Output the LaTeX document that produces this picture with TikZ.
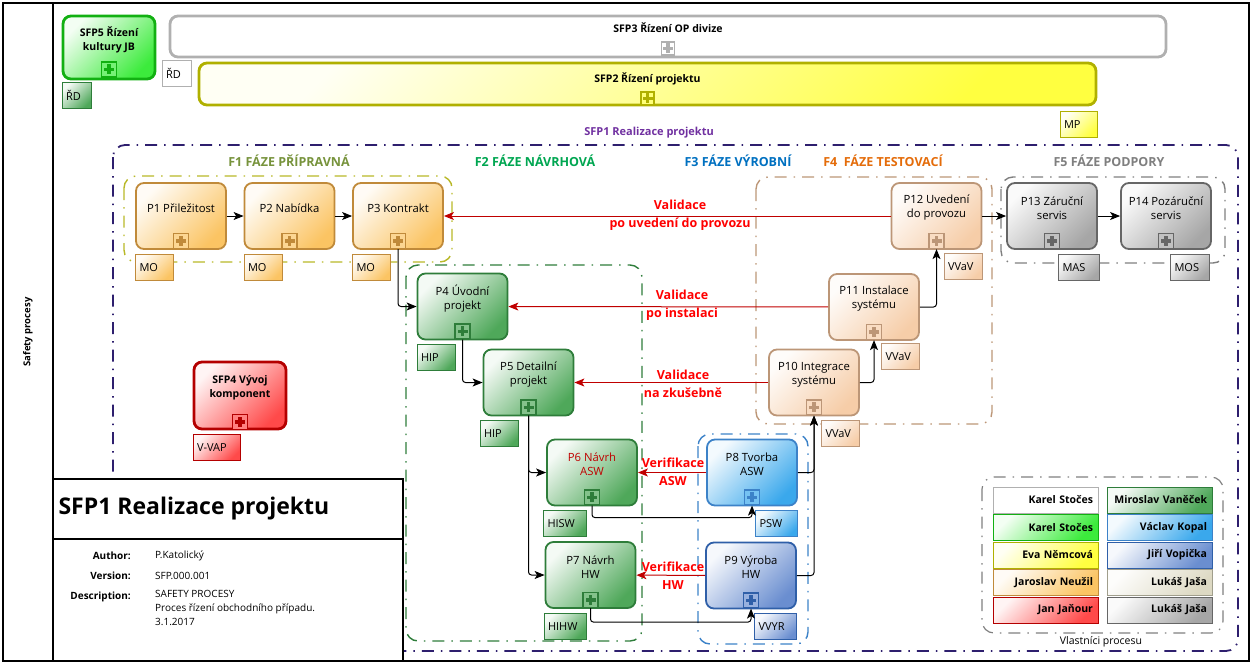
\documentclass[tikz,border=0pt]{standalone}
\usepackage{fontspec}
\setmainfont{Open Sans}
\usetikzlibrary{arrows.meta,positioning}

\definecolor{orB}{HTML}{C08A3A}\definecolor{orF}{HTML}{FBC463}
\definecolor{gnB}{HTML}{2E7D3A}\definecolor{gnF}{HTML}{4FA85A}
\definecolor{peB}{HTML}{BC9677}\definecolor{peF}{HTML}{F6CDA8}
\definecolor{gyB}{HTML}{666666}\definecolor{gyF}{HTML}{A6A6A6}
\definecolor{lbB}{HTML}{3C82C8}\definecolor{lbF}{HTML}{3AA8EC}
\definecolor{dbB}{HTML}{2F5FA8}\definecolor{dbF}{HTML}{6A8ED0}
\definecolor{bgB}{HTML}{12B012}\definecolor{bgF}{HTML}{3CEB3C}
\definecolor{rdB}{HTML}{B40000}\definecolor{rdF}{HTML}{FF4A4A}
\definecolor{ylB}{HTML}{B0B000}\definecolor{ylF}{HTML}{FFFF40}
\definecolor{whB}{HTML}{B0B0B0}\definecolor{whF}{HTML}{FFFFFF}
\definecolor{bzB}{HTML}{A09E8C}\definecolor{bzF}{HTML}{DDD9C3}
\definecolor{sfpC}{HTML}{2E1F6E}\definecolor{sfpT}{HTML}{7030A0}
\definecolor{f1C}{HTML}{77933C}\definecolor{f1G}{HTML}{B8B828}
\definecolor{f2C}{HTML}{00A651}\definecolor{f3C}{HTML}{0070C0}
\definecolor{f4C}{HTML}{E46C0A}\definecolor{f5C}{HTML}{7F7F7F}
\definecolor{valC}{HTML}{C00000}\definecolor{valT}{HTML}{FF0000}

\tikzset{
  box/.style={draw=#1B, line width=1.8pt, rounded corners=8pt, top color=#1F!6,
    bottom color=#1F, shading angle=45, minimum width=90pt, minimum height=66pt},
  sfp/.style={box=#1, line width=2.8pt},
  ptext/.style={font=\fontsize{11.3}{14}\selectfont, align=center, inner sep=0pt},
  stext/.style={font=\fontsize{10.5}{14}\selectfont\bfseries, align=center, inner sep=0pt},
  plus/.style={draw=#1B, line width=1.4pt, fill=#1F!70, minimum size=15pt, inner sep=0pt,
    path picture={
      \fill[#1B] ([xshift=-5pt,yshift=-1.8pt]path picture bounding box.center)
        rectangle ([xshift=5pt,yshift=1.8pt]path picture bounding box.center);
      \fill[#1B] ([xshift=-1.8pt,yshift=-5pt]path picture bounding box.center)
        rectangle ([xshift=1.8pt,yshift=5pt]path picture bounding box.center);}},
  tag/.style={draw=#1B, line width=0.8pt, top color=#1F!6, bottom color=#1F, shading angle=45,
    minimum height=26pt, text width=30pt, inner xsep=4pt, inner ysep=0pt, align=left,
    font=\fontsize{11}{12}\selectfont},
  owner/.style={draw=#1B, line width=0.8pt, top color=#1F!6, bottom color=#1F, shading angle=45,
    minimum height=26pt, text width=95pt, inner xsep=5pt, inner ysep=0pt, align=right,
    font=\fontsize{10.5}{12}\selectfont\bfseries},
  conn/.style={-{Stealth[length=10pt,width=8pt,inset=2.5pt]}, line width=1pt, rounded corners=3pt},
  valid/.style={conn, draw=valC},
  vtext/.style={text=valT, font=\fontsize{12.5}{18}\selectfont\bfseries, align=center},
  grp/.style={line width=1.4pt, rounded corners=12pt, dash pattern=on 12pt off 7pt on 1.5pt off 7pt},
  head/.style={font=\fontsize{12.5}{15}\selectfont\bfseries},
  mlabel/.style={anchor=east, inner sep=0pt, font=\fontsize{10}{14}\selectfont\bfseries},
  mvalue/.style={anchor=west, inner sep=0pt, font=\fontsize{10}{14}\selectfont}
}

\begin{document}
\begin{tikzpicture}[x=1pt, y=-1pt]
  \useasboundingbox (0,0) rectangle (1252,665);

  \draw[grp, draw=sfpC, line width=1.8pt] (113,145) rectangle (1238,651);
  \draw[grp, draw=f1G] (124,176) rectangle (452,262);
  \draw[grp, draw=gnB] (406,265) rectangle (642,641);
  \draw[grp, draw=lbB] (698,434) rectangle (808,644);
  \draw[grp, draw=peB] (756,177) rectangle (992,424);
  \draw[grp, draw=f5C] (1001,177) rectangle (1225,263);
  \draw[grp, draw=f5C, line width=1.2pt] (982,477) rectangle (1223,633);

  \node[font=\fontsize{11}{13}\selectfont\bfseries, text=sfpT] (sfp1h) at (649,133) {SFP1 Realizace projektu};
  \node[head, text=f1C] (f1h) at (289,161) {F1 FÁZE PŘÍPRAVNÁ};
  \node[head, text=f2C] (f2h) at (535,161) {F2 FÁZE NÁVRHOVÁ};
  \node[head, text=f3C] (f3h) at (738,161) {F3 FÁZE VÝROBNÍ};
  \node[head, text=f4C] (f4h) at (883,161) {F4\ \ FÁZE TESTOVACÍ};
  \node[head, text=f5C] (f5h) at (1109,161) {F5 FÁZE PODPORY};

  \node[sfp=bg, minimum width=92pt, minimum height=63pt] (sfp5) at (109,47.5) {};
  \node[stext] (sfp5t) at ([yshift=7.5pt]sfp5.center) {SFP5 Řízení\\kultury JB};
  \node[plus=bg] (sfp5p) at ([yshift=11pt]sfp5.south) {};
  \node[tag=gn, text width=21pt, below right=2pt and 0pt of sfp5.south west] (sfp5o) {ŘD};

  \node[sfp=wh, minimum width=996pt, minimum height=41pt] (sfp3) at (668,36.5) {};
  \node[stext] (sfp3t) at ([yshift=8.5pt]sfp3.center) {SFP3 Řízení OP divize};
  \node[plus=wh, minimum size=13pt] (sfp3p) at ([yshift=10pt]sfp3.south) {};
  \node[tag=wh, text width=21pt, below right=2pt and -7pt of sfp3.south west] (sfp3o) {ŘD};

  \node[sfp=yl, minimum width=897pt, minimum height=42pt] (sfp2) at (647.5,84) {};
  \node[stext] (sfp2t) at ([yshift=5.5pt]sfp2.center) {SFP2 Řízení projektu};
  \node[plus=yl, minimum size=13pt] (sfp2p) at ([yshift=8pt]sfp2.south) {};
  \node[tag=yl, text width=29pt, below left=5pt and 0pt of sfp2.south east] (sfp2o) {MP};

  \node[sfp=rd, minimum width=92pt, minimum height=67pt] (sfp4) at (240,395.5) {};
  \node[stext] (sfp4t) at ([yshift=7.5pt]sfp4.center) {SFP4 Vývoj\\komponent};
  \node[plus=rd] (sfp4p) at ([yshift=8.5pt]sfp4.south) {};
  \node[tag=rd, text width=39pt, below right=4pt and 0pt of sfp4.south west] (sfp4o) {V-VAP};

  \foreach \nm/\x/\y/\cl/\txt in {
      p1/181/216/or/{P1 Přiležitost},
      p2/289.5/216/or/{P2 Nabídka},
      p3/398/216/or/{P3 Kontrakt},
      p4/462.5/306.5/gn/{P4 Úvodní\\projekt},
      p5/528.5/382.5/gn/{P5 Detailní\\projekt},
      p6/592/472.5/gn/{\color{valC}P6 Návrh\\\color{valC}ASW},
      p7/590.5/575/gn/{P7 Návrh\\HW},
      p8/752/472.5/lb/{P8 Tvorba\\ASW},
      p9/751/575.5/db/{P9 Výroba\\HW},
      p10/814/382.5/pe/{P10 Integrace\\systému},
      p11/874/307/pe/{P11 Instalace\\systému},
      p12/936.5/216/pe/{P12 Uvedení\\do provozu},
      p13/1052/216/gy/{P13 Záruční\\servis},
      p14/1166/216/gy/{P14 Pozáruční\\servis}}
  {
    \node[box=\cl] (\nm) at (\x,\y) {};
    \node[ptext] (\nm t) at ([yshift=8pt]\nm.center) {\txt};
    \node[plus=\cl] (\nm p) at ([yshift=9pt]\nm.south) {};
  }

  \node[tag=or, below right=4pt and 0pt of p1.south west] (p1o) {MO};
  \node[tag=or, below right=4pt and 0pt of p2.south west] (p2o) {MO};
  \node[tag=or, below right=4pt and 0pt of p3.south west] (p3o) {MO};
  \node[tag=gn, below right=4pt and 0pt of p4.south west] (p4o) {HIP};
  \node[tag=gn, below right=4pt and -3pt of p5.south west] (p5o) {HIP};
  \node[tag=gn, text width=35pt, below right=4pt and -3pt of p6.south west] (p6o) {HISW};
  \node[tag=gn, text width=34pt, below right=4pt and -1pt of p7.south west] (p7o) {HIHW};
  \node[tag=lb, text width=34pt, below left=4pt and 0pt of p8.south east] (p8o) {PSW};
  \node[tag=db, text width=34pt, below left=4pt and 0pt of p9.south east] (p9o) {VVYR};
  \node[tag=pe, below left=4pt and 0pt of p10.south east] (p10o) {VVaV};
  \node[tag=pe, below left=2pt and 0pt of p11.south east] (p11o) {VVaV};
  \node[tag=pe, below left=3pt and 0pt of p12.south east] (p12o) {VVaV};
  \node[tag=gy, text width=33pt, below left=4pt and -2pt of p13.south east] (p13o) {MAS};
  \node[tag=gy, text width=31pt, below left=4pt and 2pt of p14.south east] (p14o) {MOS};

  \draw[conn] (p1) -- (p2);
  \draw[conn] (p2) -- (p3);
  \draw[conn] (p12) -- (p13);
  \draw[conn] (p13) -- (p14);
  \draw[conn] (p3p.south) |- (p4.west);
  \draw[conn] (p4p.south) |- (p5.west);
  \draw[conn] (p5p.south) |- (p6.west);
  \draw[conn] (p5p.south) |- (p7.west);
  \draw[conn] (p6p.south) -- ++(0,12) -| (p8p.south);
  \draw[conn] (p7p.south) -- ++(0,14) -| (p9p.south);
  \draw[conn] (p8.east) -| (p10p.south);
  \draw[conn] (p9.east) -| (p10p.south);
  \draw[conn] (p10.east) -| (p11p.south);
  \draw[conn] (p11.east) -| (p12p.south);

  \draw[valid] (p12) -- (p3);
  \draw[valid] (p11) -- (p4);
  \draw[valid] (p10) -- (p5);
  \draw[valid] (p8) -- (p6);
  \draw[valid] (p9) -- (p7);
  \node[vtext] (v1) at (680,215) {Validace\\po uvedení do provozu};
  \node[vtext] (v2) at (682,305) {Validace\\po instalaci};
  \node[vtext] (v3) at (683,383.5) {Validace\\na zkušebně};
  \node[vtext] (v4) at (673,472) {Verifikace\\ASW};
  \node[vtext] (v5) at (673,575.5) {Verifikace\\HW};

  \foreach \cl/\nm/\r in {wh/Karel Stočes/0, bg/Karel Stočes/1, yl/Eva Němcová/2,
      or/Jaroslav Neužil/3, rd/Jan Jaňour/4}
    \node[owner=\cl] (ol\r) at (1045.5,{500+27.5*\r}) {\nm};
  \foreach \cl/\nm/\r in {gn/Miroslav Vaněček/0, lb/Václav Kopal/1, db/Jiří Vopička/2,
      bz/Lukáš Jaša/3, gy/Lukáš Jaša/4}
    \node[owner=\cl] (or\r) at (1159.5,{500+27.5*\r}) {\nm};
  \node[font=\fontsize{10.5}{12}\selectfont] (legt) at (1101,642) {Vlastníci procesu};

  \draw[fill=white, line width=1.2pt] (53,479) rectangle (403,661);
  \draw[line width=1.2pt] (53,539) -- (403,539);
  \node[anchor=west, font=\fontsize{23}{28}\selectfont\bfseries] (title) at (55,509) {SFP1 Realizace projektu};
  \foreach \k/\v/\y in {Author:/P.Katolický/556, Version:/SFP.000.001/576}{
    \node[mlabel] (k\y) at (131,\y) {\k};
    \node[mvalue] (v\y) at (155,\y) {\v};
  }
  \node[mlabel] (k596) at (131,597) {Description:};
  \node[mvalue, anchor=north west, align=left] (v596) at (155,590) {SAFETY PROCESY\\Proces řízení obchodního případu.\\3.1.2017};

  \draw[line width=1.3pt] (3,3) rectangle (1249,661);
  \draw[line width=1.3pt] (53,3) -- (53,661);
  \node[rotate=90, font=\fontsize{9.5}{11}\selectfont\bfseries] (side) at (28,332) {Safety procesy};
\end{tikzpicture}
\end{document}
